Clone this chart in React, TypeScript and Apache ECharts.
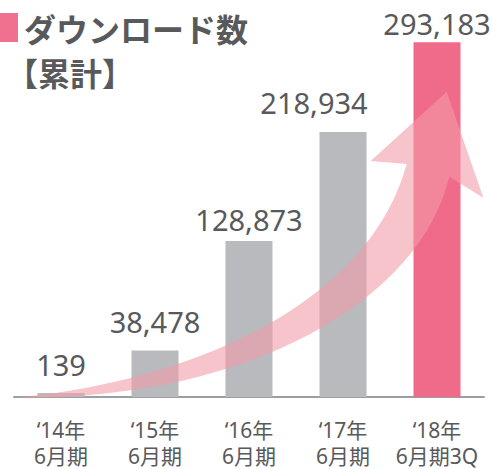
import React, { useEffect, useRef } from "react";
import * as echarts from "echarts";

const categories = ["‘14年\n6月期", "‘15年\n6月期", "‘16年\n6月期", "‘17年\n6月期", "‘18年\n6月期3Q"];
const downloads = [139, 38478, 128873, 218934, 293183];
const titleLine1 = "ダウンロード数";
const titleLine2 = "【累計】";

const GRAY = "#b9babe";
const PINK = "#f06b8a";
const TEXT = "#58595b";
const barColors = [GRAY, GRAY, GRAY, GRAY, PINK];
const labelDistances = [14, 14, 7, 15, 4];
const labelOffsets = [[0, 0], [0, 0], [0, 0], [-29, 0], [0, 0]];

const ARROW_D =
  "M16.7 397.7 C200 380 370 300 406.7 164 L370.7 161 L446.7 91.7 L483.3 197.7 L449.3 176.7 C420 300 250 400 16.7 397.7 Z";

let registered = false;
function ensureShape() {
  if (registered) return;
  echarts.graphic.registerShape("growthArrow", echarts.graphic.extendPath(ARROW_D, {}) as any);
  registered = true;
}

export default function App() {
  const ref = useRef<HTMLDivElement>(null);
  useEffect(() => {
    if (!ref.current) return;
    ensureShape();
    const chart = echarts.init(ref.current, null, { renderer: "svg" });
    chart.setOption({
      animation: false,
      grid: { left: 14, right: 8, top: 34, bottom: 70, containLabel: false },
      xAxis: {
        type: "category",
        data: categories,
        axisLine: { show: true, lineStyle: { color: "#9d9ea2", width: 2 } },
        axisTick: { show: false },
        axisLabel: {
          color: TEXT,
          fontSize: 21,
          lineHeight: 26,
          margin: 20,
          fontFamily: "'Noto Sans', 'Noto Sans CJK JP', sans-serif",
          interval: 0,
        },
      },
      yAxis: { type: "value", min: 0, max: 300000, show: false, splitLine: { show: false } },
      series: [
        {
          type: "bar",
          barWidth: 47,
          barMinHeight: 4,
          data: downloads.map((v, i) => ({
            value: v,
            itemStyle: { color: barColors[i] },
            label: { distance: labelDistances[i], offset: labelOffsets[i] },
          })),
          label: {
            show: true,
            position: "top",
            color: TEXT,
            fontSize: 29,
            lineHeight: 29,
            fontFamily: "'Noto Sans', sans-serif",
            formatter: (p: any) => Number(p.value).toLocaleString("en-US"),
          },
        },
      ],
      graphic: [
        { type: "rect", left: 0, top: 13, shape: { x: 0, y: 0, width: 18, height: 29 }, style: { fill: "#f07090" } },
        {
          type: "text",
          x: 24,
          y: 28,
          style: {
            text: titleLine1,
            fill: TEXT,
            font: "bold 32px 'Noto Sans CJK JP', sans-serif",
            textAlign: "left",
            textVerticalAlign: "middle",
          },
        },
        {
          type: "text",
          x: 6,
          y: 72,
          style: {
            text: titleLine2,
            fill: TEXT,
            font: "bold 32px 'Noto Sans CJK JP', sans-serif",
            textAlign: "left",
            textVerticalAlign: "middle",
          },
        },
        {
          type: "growthArrow",
          x: 0,
          y: 0,
          z: 100,
          silent: true,
          style: { fill: "rgba(243,153,165,0.58)" },
        },
      ],
    });
    return () => chart.dispose();
  }, []);
  return (
    <div
      ref={ref}
      style={{ position: "fixed", left: 0, top: 0, width: 492, height: 469, background: "#fff" }}
    />
  );
}
